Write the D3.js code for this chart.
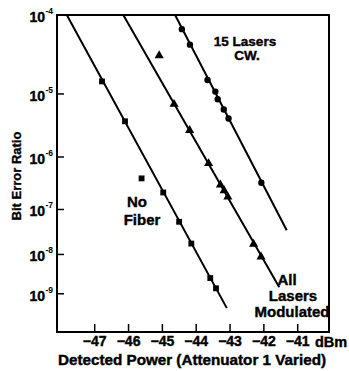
<!DOCTYPE html>
<html>
<head>
<meta charset="utf-8">
<script src="https://cdn.jsdelivr.net/npm/d3@7"></script>
<style>
  body { margin: 0; background: #fff; }
  svg { display: block; }
  text { font-family: "Liberation Sans", Arial, sans-serif; font-weight: bold; fill: #000; }
</style>
</head>
<body>
<div id="chart"></div>
<script>
// BER vs detected power, three curves

const FRAME_WIDTH = 349;
const FRAME_HEIGHT = 371;
const PLOT = {left: 57, top: 15, right: 329, bottom: 332};

// axis ticks
const X_TICKS = [-47, -46, -45, -44, -43, -42, -41];
const Y_EXPONENTS = [4, 5, 6, 7, 8, 9];

// No Fiber (squares)
const NOFIBER_X = [-46.77, -46.09, -45.60, -44.96, -44.49, -44.13, -43.57, -43.40];
const NOFIBER_BER = [1.5e-5, 3.9e-6, 4.1e-7, 2.2e-7, 5.5e-8, 1.8e-8, 2.6e-9, 1.4e-9];
const NOFIBER_FIT_X = [-47.81, -43.08];
const NOFIBER_FIT_BER = [1e-4, 4.0e-10];

// All Lasers Modulated (triangles)
const ALLMOD_X = [-45.08, -44.64, -44.18, -43.62, -43.27, -43.16, -43.05, -42.29, -42.07];
const ALLMOD_BER = [3.3e-5, 7.1e-6, 2.8e-6, 7.7e-7, 3.1e-7, 2.4e-7, 1.8e-7, 1.75e-8, 8.8e-9];
const ALLMOD_FIT_X = [-46.14, -41.53];
const ALLMOD_FIT_BER = [1e-4, 1.5e-9];

// 15 Lasers CW (circles)
const CW_X = [-44.41, -44.17, -43.65, -43.42, -43.35, -43.17, -43.03, -42.06];
const CW_BER = [6.9e-5, 4.5e-5, 1.57e-5, 1.08e-5, 8.4e-6, 5.9e-6, 4.3e-6, 3.4e-7];
const CW_FIT_X = [-44.61, -41.31];
const CW_FIT_BER = [1e-4, 3.6e-8];

const svg = d3.select("#chart")
              .append("svg")
                .attr("width", FRAME_WIDTH)
                .attr("height", FRAME_HEIGHT);

// scales
const X_SCALE = d3.scaleLinear()
                    .domain([-48.1, -40.06])
                    .range([PLOT.left, PLOT.right]);

// BER paper: log of (-log10 BER), slightly offset
const Y_LOG = d3.scaleLog()
                  .domain([3.5, 9.6])
                  .range([PLOT.top, PLOT.bottom]);
const yExp = n => Y_LOG(n - 0.5);
const yBer = b => yExp(-Math.log10(b));

// frame
svg.append("rect")
    .attr("x", PLOT.left)
    .attr("y", PLOT.top)
    .attr("width", PLOT.right - PLOT.left)
    .attr("height", PLOT.bottom - PLOT.top)
    .attr("fill", "none")
    .attr("stroke", "#000")
    .attr("stroke-width", 2);

// x axis (ticks inside)
const xAxis = svg.append("g")
    .attr("transform", "translate(0," + PLOT.bottom + ")")
    .call(d3.axisBottom(X_SCALE).tickValues(X_TICKS).tickSize(-8).tickSizeOuter(0).tickPadding(4));
xAxis.select(".domain").remove();
xAxis.selectAll(".tick line").attr("stroke-width", 1.5);
xAxis.selectAll(".tick text")
    .attr("font-size", 14)
    .attr("font-family", "Liberation Sans, Arial, sans-serif")
    .attr("font-weight", "bold")
    .attr("stroke", "#000")
    .attr("stroke-width", 0.4)
    .attr("y", 4);

svg.append("text")
    .attr("x", 315)
    .attr("y", PLOT.bottom + 15)
    .attr("font-size", 14.5)
    .attr("stroke", "#000")
    .attr("stroke-width", 0.4)
    .text("dBm");

// y ticks with 10^-n labels
const yTicks = svg.append("g").selectAll(".ytick")
    .data(Y_EXPONENTS)
    .enter().append("g")
      .attr("class", "ytick")
      .attr("transform", d => "translate(0," + yExp(d) + ")");

yTicks.append("line")
    .attr("x1", PLOT.left)
    .attr("x2", PLOT.left + 7)
    .attr("stroke", "#000")
    .attr("stroke-width", 1.5);

yTicks.append("text")
    .attr("x", 45)
    .attr("y", 7)
    .attr("text-anchor", "end")
    .attr("font-size", 14)
    .attr("stroke", "#000")
    .attr("stroke-width", 0.4)
    .text("10");

yTicks.append("text")
    .attr("x", 45.5)
    .attr("y", -1)
    .attr("font-size", 8.5)
    .text(d => "-" + d);

// fit lines
const fits = [
  [NOFIBER_FIT_X, NOFIBER_FIT_BER],
  [ALLMOD_FIT_X, ALLMOD_FIT_BER],
  [CW_FIT_X, CW_FIT_BER]
];
const line = d3.line().x(d => X_SCALE(d[0])).y(d => yBer(d[1]));
svg.selectAll(".fit")
    .data(fits)
    .enter().append("path")
      .attr("class", "fit")
      .attr("d", d => line(d[0].map((x, i) => [x, d[1][i]])))
      .attr("fill", "none")
      .attr("stroke", "#000")
      .attr("stroke-width", 2);

// markers
function plotPoints(xs, bers, type, size) {
  svg.append("g").selectAll("path")
      .data(xs.map((x, i) => [x, bers[i]]))
      .enter().append("path")
        .attr("transform", d => "translate(" + X_SCALE(d[0]) + "," + yBer(d[1]) + ")")
        .attr("d", d3.symbol().type(type).size(size))
        .attr("fill", "#000");
}
plotPoints(NOFIBER_X, NOFIBER_BER, d3.symbolSquare, 34);
plotPoints(ALLMOD_X, ALLMOD_BER, d3.symbolTriangle, 36);
plotPoints(CW_X, CW_BER, d3.symbolCircle, 32);

// annotations
const notes = [
  {t: "15 Lasers", x: 245, y: 46, s: 13.5},
  {t: "CW.", x: 247, y: 60, s: 13.5},
  {t: "No", x: 137, y: 207, s: 15},
  {t: "Fiber", x: 142, y: 224.5, s: 15},
  {t: "All", x: 287, y: 284.5, s: 15},
  {t: "Lasers", x: 293, y: 301, s: 15},
  {t: "Modulated", x: 292, y: 317, s: 15}
];
svg.selectAll(".note")
    .data(notes)
    .enter().append("text")
      .attr("class", "note")
      .attr("x", d => d.x)
      .attr("y", d => d.y)
      .attr("text-anchor", "middle")
      .attr("font-size", d => d.s)
      .attr("stroke", "#000")
      .attr("stroke-width", 0.4)
      .text(d => d.t);

// axis titles
svg.append("text")
    .attr("x", 192)
    .attr("y", 365)
    .attr("text-anchor", "middle")
    .attr("font-size", 14)
    .attr("textLength", 268)
    .attr("lengthAdjust", "spacingAndGlyphs")
    .attr("stroke", "#000")
    .attr("stroke-width", 0.4)
    .text("Detected Power (Attenuator 1 Varied)");

svg.append("text")
    .attr("transform", "translate(21,176) rotate(-90)")
    .attr("text-anchor", "middle")
    .attr("font-size", 13)
    .attr("stroke", "#000")
    .attr("stroke-width", 0.35)
    .text("Bit Error Ratio");
</script>
</body>
</html>
